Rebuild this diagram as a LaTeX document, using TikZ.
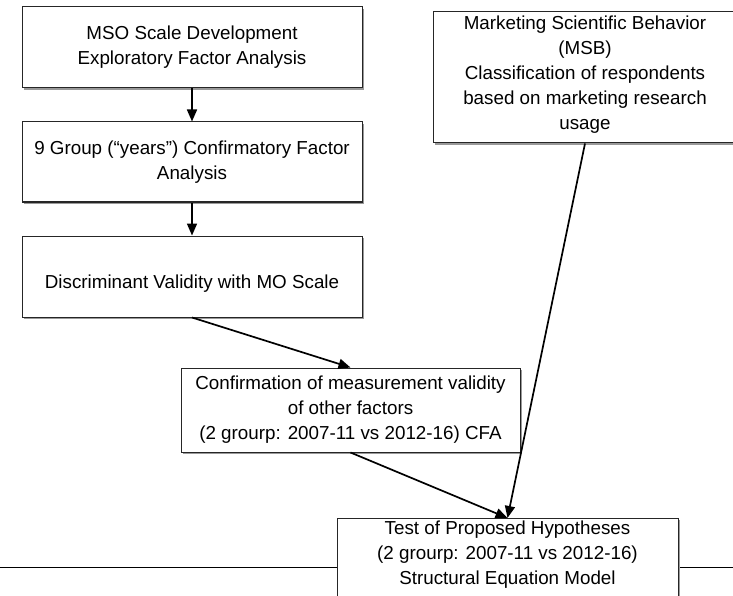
\documentclass[tikz,border=0pt]{standalone}
\usepackage{fontspec}
\setmainfont{Liberation Sans}
\usetikzlibrary{arrows.meta,shadows}
\begin{document}
\begin{tikzpicture}[x=1pt,y=-1pt,
  box/.style={draw=black!85, line width=1pt, fill=white, inner sep=2pt,
    align=center, font=\fontsize{18.8}{25}\selectfont,
    drop shadow={shadow xshift=1.8pt, shadow yshift=-1.8pt, fill=black!40, opacity=1}},
  txt/.style={align=center, inner sep=0pt, font=\fontsize{18.8}{25}\selectfont},
  arr/.style={line width=1.7pt, -{Triangle[length=12pt,width=10pt]}},
  rule/.style={line width=0.9pt}]
\useasboundingbox (0,0) rectangle (733,596);
% page rule
\coordinate (lineL) at (0,567);
\coordinate (lineR) at (733,567);
\draw[rule] (lineL) -- (lineR);
% boxes
\node[box, minimum width=340pt, minimum height=81pt] (b1) at (192,47.5)
  {MSO Scale Development\\Exploratory Factor Analysis};
\node[box, minimum width=340pt, minimum height=80pt] (b2) at (192,162)
  {9 Group (“years”) Confirmatory Factor\\Analysis};
\node[box, minimum width=340pt, minimum height=81pt] (b3) at (192,276.5) {};
\node[txt] (t3) at (192,284) {Discriminant Validity with MO Scale};
\node[box, minimum width=339pt, minimum height=84pt] (b4) at (350.5,410)
  {Confirmation of measurement validity\\of other factors\\(2 grourp: 2007-11 vs 2012-16) CFA};
\node[box, minimum width=304pt, minimum height=131pt] (msb) at (585,77.5) {};
\node[txt] (tmsb) at (585,74.5)
  {Marketing Scientific Behavior\\(MSB)\\Classification of respondents\\based on marketing research\\usage};
\node[box, anchor=north, minimum width=341pt, minimum height=100pt] (b6) at (507.5,518) {};
\node[txt] (t6) at (507.5,555)
  {Test of Proposed Hypotheses\\(2 grourp: 2007-11 vs 2012-16)\\Structural Equation Model};
% connectors
\draw[arr] (b1.south) -- (b2.north);
\draw[arr] (b2.south) -- (b3.north);
\draw[arr] (b3.south) -- (b4.north);
\draw[arr] (b4.south) -- (b6.north);
\draw[arr] (msb.south) -- (b6.north);
\end{tikzpicture}
\end{document}
